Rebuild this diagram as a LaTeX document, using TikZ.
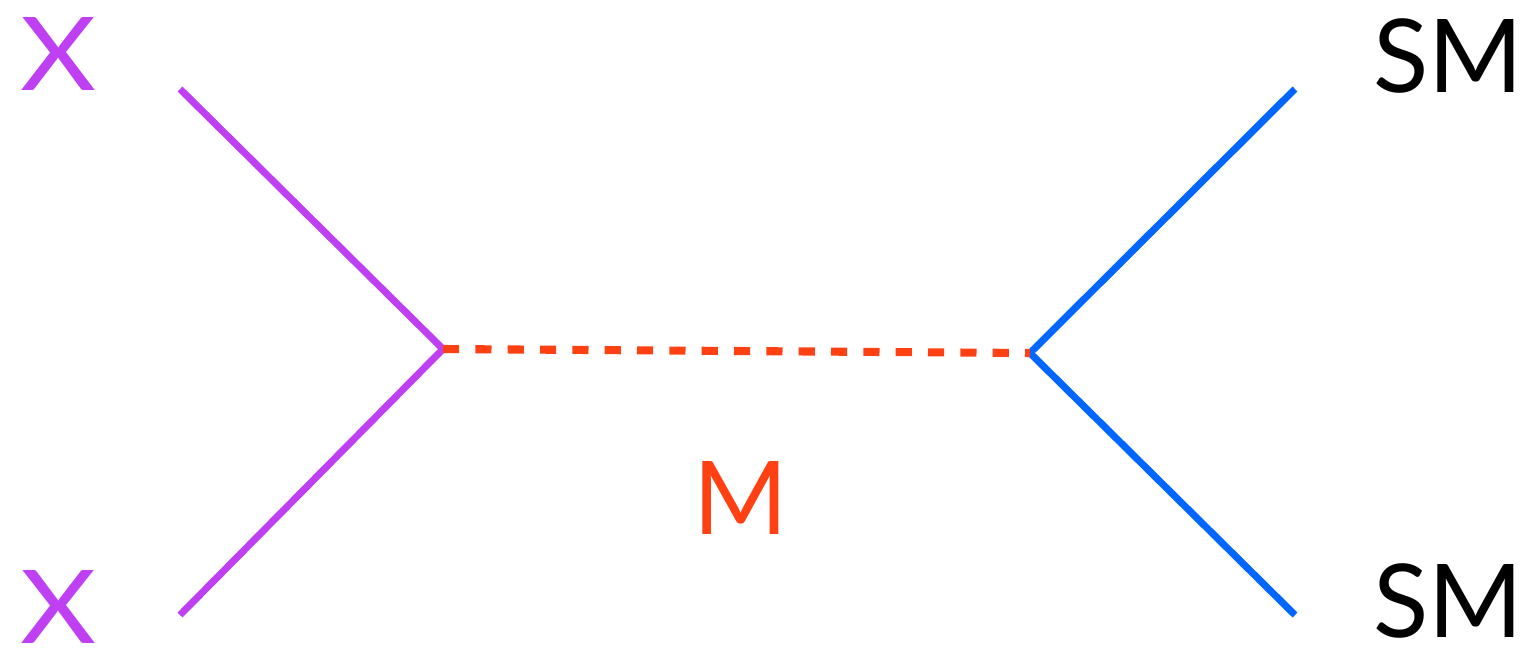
\documentclass[tikz,border=0pt]{standalone}
\usepackage{fontspec}
\setmainfont{Lato}
\usepackage{xcolor}
\usetikzlibrary{positioning}

\definecolor{darkpurple}{RGB}{191,64,242}
\definecolor{medorange}{RGB}{255,64,19}
\definecolor{smblue}{RGB}{0,102,255}

\begin{document}
\begin{tikzpicture}[
    fermion/.style={line width=2pt},
    mediator/.style={line width=2.3pt, dash pattern=on 4.6pt off 4.6pt, color=medorange},
    lbl/.style={inner sep=0pt, font=\fontsize{29}{29}\selectfont}
  ]
  \useasboundingbox (0,0) rectangle (15.2,6.51);

  % vertices and external ends
  \coordinate (v1) at (4.43,3.02);
  \coordinate (v2) at (10.30,2.98);
  \coordinate (x1) at (1.80,5.62);
  \coordinate (x2) at (1.80,0.36);
  \coordinate (s1) at (12.95,5.62);
  \coordinate (s2) at (12.95,0.36);

  \node[lbl, text=darkpurple, xscale=1.15] (X1) at (0.59,5.97) {X};
  \node[lbl, text=darkpurple, xscale=1.15] (X2) at (0.59,0.44) {X};
  \node[lbl] (SM1) at (14.48,5.95) {SM};
  \node[lbl] (SM2) at (14.48,0.50) {SM};
  \node[lbl, text=medorange] (M) at (7.41,1.53) {M};

  \draw[fermion, darkpurple] (x1) -- (v1) -- (x2);
  \draw[fermion, smblue] (s1) -- (v2) -- (s2);
  \draw[mediator] (v1) -- (v2);
\end{tikzpicture}
\end{document}
